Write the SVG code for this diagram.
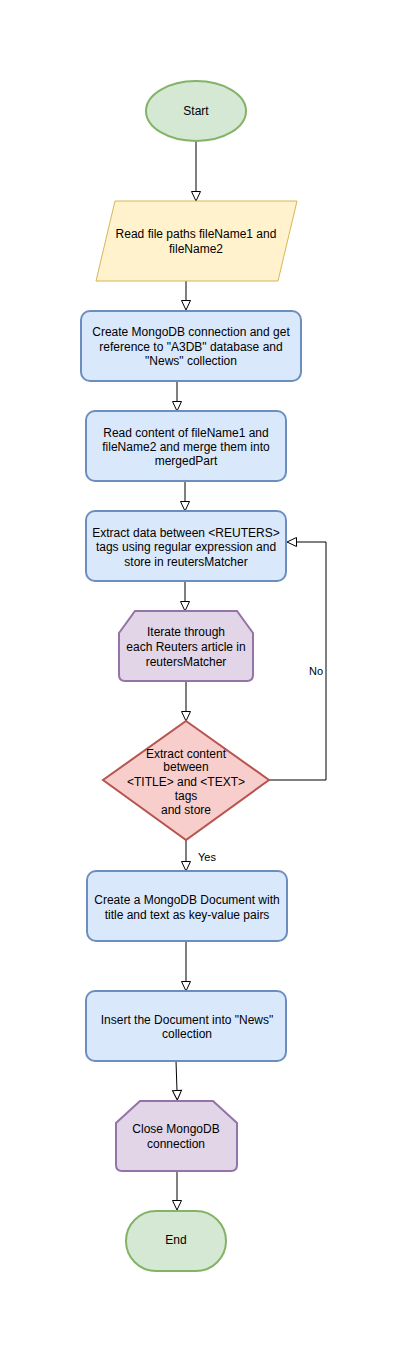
<svg xmlns="http://www.w3.org/2000/svg" width="418" height="1352" viewBox="0 0 418 1352">
<style>
text{font-family:"Liberation Sans",Arial,Helvetica,sans-serif;font-size:12px;fill:#000;text-anchor:middle}
.lbl{font-size:11px}
.green{fill:#d5e8d4;stroke:#82b366;stroke-width:2}
.yellow{fill:#fff2cc;stroke:#d6b656;stroke-width:1}
.blue{fill:#dae8fc;stroke:#6c8ebf;stroke-width:2}
.purple{fill:#e1d5e7;stroke:#9673a6;stroke-width:2}
.red{fill:#f8cecc;stroke:#b85450;stroke-width:2}
.edge{fill:none;stroke:#000;stroke-width:1}
</style>
<defs>
<marker id="arr" markerUnits="userSpaceOnUse" markerWidth="12" markerHeight="12" refX="0.5" refY="5" orient="auto" viewBox="-1 -1 12 12">
<path d="M0,0.5 L9.5,5 L0,9.5 Z" fill="#fff" stroke="#000" stroke-width="1"/>
</marker>
</defs>
<rect width="418" height="1352" fill="#fff"/>
<g id="connectors">
<path class="edge" d="M196,141 V192" marker-end="url(#arr)"/>
<path class="edge" d="M186,281 V301" marker-end="url(#arr)"/>
<path class="edge" d="M177,381 V402" marker-end="url(#arr)"/>
<path class="edge" d="M185,481 V502" marker-end="url(#arr)"/>
<path class="edge" d="M185,581 V602" marker-end="url(#arr)"/>
<path class="edge" d="M186,681 V712" marker-end="url(#arr)"/>
<path class="edge" d="M269,780 H326 V542 H296" marker-end="url(#arr)"/>
<path class="edge" d="M186,840 V862" marker-end="url(#arr)"/>
<path class="edge" d="M186,941 V982" marker-end="url(#arr)"/>
<path class="edge" d="M176,1061 L177,1091" marker-end="url(#arr)"/>
<path class="edge" d="M177,1171 V1201" marker-end="url(#arr)"/>
<text class="lbl" x="316" y="675">No</text>
<text class="lbl" x="207" y="861">Yes</text>
</g>
<g id="start">
<ellipse class="green" cx="196" cy="111" rx="50" ry="30"/>
<text x="196" y="115">Start</text>
</g>
<g id="readPaths">
<polygon class="yellow" points="115,201 297,201 278,281 96,281"/>
<text x="196" y="238">Read file paths fileName1 and</text>
<text x="196" y="253">fileName2</text>
</g>
<g id="connect">
<rect class="blue" x="81" y="311" width="220" height="70" rx="9"/>
<text x="191" y="336">Create MongoDB connection and get</text>
<text x="191" y="350.5">reference to "A3DB" database and</text>
<text x="191" y="365">"News" collection</text>
</g>
<g id="readContent">
<rect class="blue" x="86" y="411" width="200" height="70" rx="9"/>
<text x="186" y="437">Read content of fileName1 and</text>
<text x="186" y="451">fileName2 and merge them into</text>
<text x="186" y="465">mergedPart</text>
</g>
<g id="extract">
<rect class="blue" x="86" y="511" width="200" height="70" rx="9"/>
<text x="186" y="536.5">Extract data between &lt;REUTERS&gt;</text>
<text x="186" y="551">tags using regular expression and</text>
<text x="186" y="565.5">store in reutersMatcher</text>
</g>
<g id="iterate">
<path class="purple" d="M135,611 H237 L253,633 V675 Q253,681 247,681 H125 Q119,681 119,675 V633 Z"/>
<text x="186" y="636">Iterate through</text>
<text x="186" y="651">each Reuters article in</text>
<text x="186" y="665.5">reutersMatcher</text>
</g>
<g id="decision">
<polygon class="red" points="186,721 269,780 186,840 103,780"/>
<text x="186" y="757.5">Extract content</text>
<text x="186" y="771">between</text>
<text x="186" y="786">&lt;TITLE&gt; and &lt;TEXT&gt;</text>
<text x="186" y="800">tags</text>
<text x="186" y="814">and store</text>
</g>
<g id="createDoc">
<rect class="blue" x="87" y="871" width="200" height="70" rx="9"/>
<text x="187" y="904">Create a MongoDB Document with</text>
<text x="187" y="918.5">title and text as key-value pairs</text>
</g>
<g id="insert">
<rect class="blue" x="86" y="991" width="200" height="70" rx="9"/>
<text x="187" y="1023.5">Insert the Document into "News"</text>
<text x="187" y="1037.5">collection</text>
</g>
<g id="close">
<path class="purple" d="M140,1101 H213 L237,1123 V1165 Q237,1171 231,1171 H122 Q116,1171 116,1165 V1123 Z"/>
<text x="176" y="1133">Close MongoDB</text>
<text x="176" y="1147.5">connection</text>
</g>
<g id="end">
<rect class="green" x="126" y="1211" width="100" height="60" rx="30"/>
<text x="176" y="1244">End</text>
</g>
</svg>
